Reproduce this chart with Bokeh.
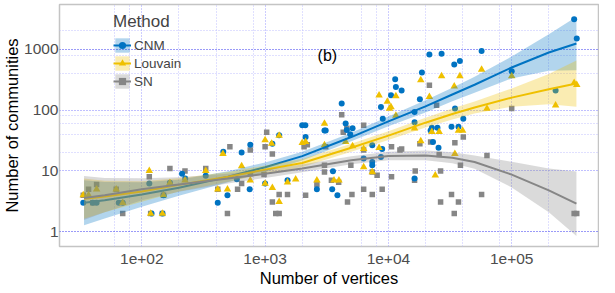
from bokeh.plotting import figure
from bokeh.models import FixedTicker, Grid, Legend, LegendItem, Label, Range1d
from bokeh.embed import file_html
from bokeh.resources import INLINE

# ---------------- data ----------------
methods = ["CNM", "Louvain", "SN"]
method_colors = ["#0073C2", "#EFC000", "#868686"]

cnm_vertices = [33.5, 40, 43, 65, 70, 115, 120, 147, 150, 169, 212, 225, 330, 413, 458, 495, 590, 645,
                758, 750, 1000, 1145, 1300, 1520, 2000, 2120, 2130, 2630, 3030, 3100, 3550, 3500, 3860,
                4180, 4500, 4600, 4900, 5120, 6300, 7400, 7400, 7400, 8700, 9000, 8700, 8900, 10500,
                11350, 11500, 12800, 16300, 16300, 16300, 18000, 18700, 21500, 22000, 22500, 25000,
                27000, 23000, 25500, 34200, 38000, 34700, 32500, 37000, 40500, 57000, 100000, 227000,
                321000, 337000]
cnm_communities = [3, 3, 3, 3, 3, 6.2, 2, 2, 4, 6.4, 9, 7.5, 8.3, 3, 20.6, 4, 7.3, 20,
                   27, 5, 6.2, 28, 38.6, 7, 56, 56, 36, 5, 46, 46, 9.9, 5, 4,
                   128, 60, 47, 40, 50, 16, 26.5, 12.4, 14, 112, 72, 17, 23, 175,
                   320, 240, 210, 93, 63, 7.5, 150, 415, 815, 46, 51, 51,
                   840, 30, 24, 560, 640, 106, 53, 53, 72, 935, 435, 210,
                   3100, 1490]

louvain_vertices = [33.5, 37, 43, 62, 70, 115, 118, 147, 150, 169, 224, 330, 413, 455, 495, 645, 758,
                    1000, 1000, 1130, 1300, 1145, 1300, 1520, 1770, 2000, 2130, 2630, 3030, 3030, 3620,
                    3970, 4500, 5120, 6300, 6300, 7400, 8400, 8400, 9800, 10500, 10200, 11500, 11500,
                    16300, 18300, 18300, 21500, 27000, 22500, 25800, 24000, 34200, 38000, 37000, 40000,
                    34600, 57000, 63000, 100000, 227000, 321000, 337000]
louvain_communities = [4, 4, 5, 5, 3, 10, 2, 2, 4, 6.4, 7, 10, 5, 19, 5, 12, 7,
                       32, 6.2, 28, 38, 5.3, 3.1, 6.5, 7.3, 29, 30, 7, 60, 26.5, 7,
                       7, 30, 25.7, 23, 11.6, 9.6, 175, 24, 138, 112, 106, 170, 81,
                       50, 310, 31, 165, 360, 44, 44, 8.5, 245, 360, 46, 46,
                       19, 460, 106, 360, 120, 280, 260]

sn_vertices = [33.5, 37, 40, 43, 62, 70, 115, 118, 147, 150, 169, 224, 330, 413, 495, 518, 598, 645,
               758, 758, 980, 1030, 1000, 1145, 1145, 1220, 1300, 1300, 1520, 2070, 2200, 2130, 2630,
               3030, 3100, 3030, 3450, 3950, 4180, 4600, 4660, 5060, 4960, 4300, 6300, 6300, 6300,
               7400, 7400, 8100, 8900, 10600, 10600, 12800, 12400, 16300, 16500, 18000, 22000, 21500,
               24600, 25800, 26500, 26500, 32500, 37000, 34200, 34600, 38400, 40500, 57000, 63000,
               100000, 321000, 337000]
sn_communities = [4, 5, 3, 6, 5, 2, 8, 2, 2, 4, 11, 10, 11, 5, 2, 25, 5, 6.2,
                  22, 9, 8.7, 43, 25, 19, 3.1, 2, 2, 4.1, 4.1, 25, 27, 4, 6,
                  12.4, 25, 9.6, 7, 6.5, 84, 50, 3.1, 4.1, 12.4, 43, 56, 5, 22,
                  4.1, 9.6, 8.5, 5, 25, 8, 23, 22, 7, 10, 28, 30, 255,
                  120, 18.6, 10, 3.1, 4.1, 3.1, 2, 29, 12.4, 36, 4.1, 18,
                  106, 2, 2]

# smoothed trends (loess-like), with confidence band
smooth_vertices = [34, 50, 100, 200, 500, 1000, 2000, 5000, 10000, 20000, 33000, 50000, 100000, 200000, 335000]
cnm_fit = [3.0, 3.3, 4.1, 5.3, 8.0, 11.5, 17.5, 36, 65, 115, 180, 260, 500, 880, 1240]
cnm_low = [1.28, 1.65, 2.59, 3.93, 6.5, 9.57, 14.9, 30.6, 54.1, 91.3, 139, 193, 330, 441, 450]
cnm_high = [7.03, 6.58, 6.5, 7.15, 9.84, 13.8, 20.6, 42.3, 78.1, 145, 233, 351, 757, 1756, 3415]
louvain_fit = [3.5, 3.8, 4.6, 5.9, 8.0, 10.5, 13.5, 24, 38, 62, 86, 110, 160, 220, 272]
louvain_low = [1.64, 2.09, 3.11, 4.58, 6.66, 8.94, 11.6, 20.7, 32.3, 51.6, 70, 87.4, 113, 124, 113]
louvain_high = [7.48, 6.92, 6.80, 7.60, 9.62, 12.3, 15.7, 27.9, 44.7, 74.5, 106, 138, 226, 391, 653]
sn_fit = [3.6, 4.0, 5.0, 6.0, 7.5, 9.0, 11, 15, 17.6, 18, 16.5, 14, 8.7, 4.8, 2.9]
sn_low = [1.57, 2.10, 3.30, 4.55, 6.24, 7.66, 9.47, 12.9, 15.0, 15.0, 13.4, 10.9, 5.36, 2.10, 0.856]
sn_high = [8.25, 7.62, 7.57, 7.91, 9.02, 10.6, 12.8, 17.4, 20.7, 21.6, 20.3, 18.0, 14.1, 11.0, 9.83]

x_ticks = [100, 1000, 10000, 100000]
x_tick_labels = ["1e+02", "1e+03", "1e+04", "1e+05"]
y_ticks = [1, 10, 100, 1000]
y_tick_labels = ["1", "10", "100", "1000"]
x_minor_grid = [60, 80, 200, 400, 800, 2000, 6000, 8000, 20000, 40000, 80000, 200000]
y_minor_grid = [20, 40, 60, 80, 400, 800, 2000]

FONT = "Liberation Sans"

# ---------------- figure ----------------
p = figure(frame_width=539, frame_height=242, x_axis_type="log", y_axis_type="log",
           x_range=Range1d(21.5, 505800), y_range=Range1d(0.574, 5410),
           output_backend="svg", toolbar_location=None,
           min_border_left=59, min_border_right=1, min_border_top=4, min_border_bottom=0,
           background_fill_color="white", border_fill_color="white")
p.outline_line_color = "#c4c4c4"
p.outline_line_width = 1.5
p.grid.visible = False

def add_grid(dim, ticks, color):
    g = Grid(dimension=dim, ticker=FixedTicker(ticks=ticks), grid_line_color=color,
             grid_line_dash="1 2", grid_line_width=1)
    p.add_layout(g)

add_grid(0, x_minor_grid, "#c0c0ff")
add_grid(1, y_minor_grid, "#c0c0ff")
add_grid(0, x_ticks, "#9a9aff")
add_grid(1, [10, 100], "#8080ff")
add_grid(1, [1, 1000], "#3535f0")

p.xaxis.ticker = FixedTicker(ticks=x_ticks)
p.yaxis.ticker = FixedTicker(ticks=y_ticks)
p.xaxis.major_label_overrides = dict(zip(x_ticks, x_tick_labels))
p.yaxis.major_label_overrides = dict(zip(y_ticks, y_tick_labels))
for ax in (p.xaxis, p.yaxis):
    ax.axis_line_color = None
    ax.major_tick_line_color = None
    ax.minor_tick_line_color = None
    ax.major_tick_out = 0
    ax.major_tick_in = 0
    ax.minor_tick_out = 0
    ax.minor_tick_in = 0
    ax.major_label_text_font = FONT
    ax.major_label_text_font_size = "15.5px"
    ax.major_label_text_color = "#4d4d4d"
    ax.axis_label_text_font = FONT
    ax.axis_label_text_font_size = "16.5px"
    ax.axis_label_text_font_style = "normal"
    ax.axis_label_text_color = "black"
p.xaxis.major_label_standoff = 7
p.yaxis.major_label_standoff = 1
p.xaxis.axis_label_standoff = 2
p.yaxis.axis_label_standoff = 0
p.xaxis.axis_label = "Number of vertices"
p.yaxis.axis_label = "Number of communities"

# points first (ribbons are drawn over them)
pts_sn = p.scatter(sn_vertices, sn_communities, marker="square", size=5.5,
                   fill_color=method_colors[2], line_color=None)
pts_cnm = p.scatter(cnm_vertices, cnm_communities, marker="circle", size=6,
                    fill_color=method_colors[0], line_color=None)
pts_lou = p.scatter(louvain_vertices, louvain_communities, marker="triangle", size=7.5,
                    fill_color=method_colors[1], line_color=None)

items = []
for name, col, fit, lo, hi, pts in [
        (methods[0], method_colors[0], cnm_fit, cnm_low, cnm_high, pts_cnm),
        (methods[1], method_colors[1], louvain_fit, louvain_low, louvain_high, pts_lou),
        (methods[2], method_colors[2], sn_fit, sn_low, sn_high, pts_sn)]:
    rib = p.varea(x=smooth_vertices, y1=lo, y2=hi, fill_color=col, fill_alpha=0.3)
    ln = p.line(smooth_vertices, fit, line_color=col, line_width=2)
    items.append(LegendItem(label=name, renderers=[rib, ln, pts]))

legend = Legend(items=items, location=(54, 156), title="Method",
                title_text_font=FONT, title_text_font_size="17px", title_text_font_style="normal",
                label_text_font=FONT, label_text_font_size="13.5px",
                glyph_width=18, glyph_height=18, label_height=18, spacing=0,
                padding=0, margin=0, background_fill_alpha=0, border_line_color=None,
                label_standoff=3, title_standoff=4)
p.add_layout(legend)

p.add_layout(Label(x=3200, y=780, text="(b)", text_align="center", text_baseline="middle",
                   text_font=FONT, text_font_size="16px", text_color="black"))

open("out.html", "w").write(file_html(p, INLINE))
